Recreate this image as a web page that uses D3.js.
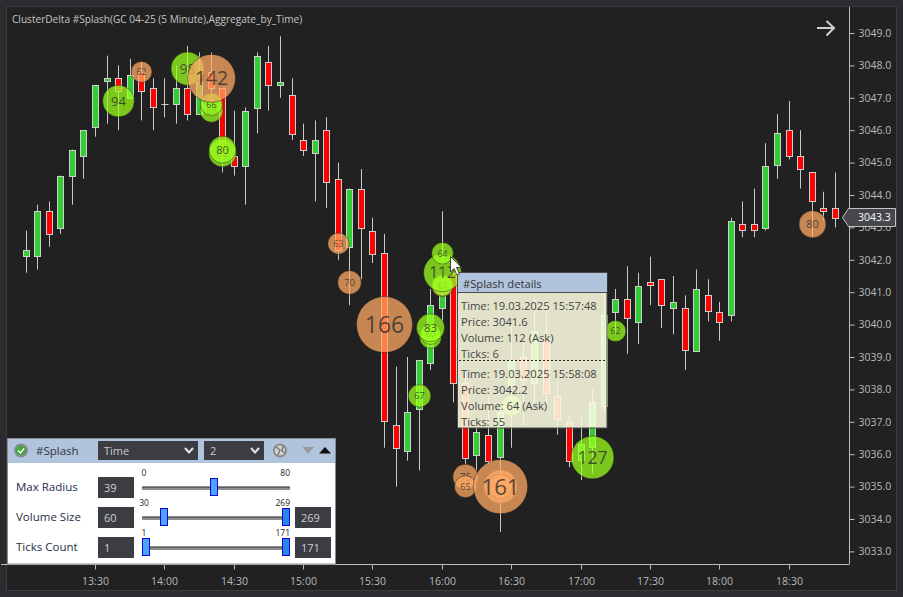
<!DOCTYPE html>
<html>
<head>
<meta charset="utf-8">
<script src="https://cdn.jsdelivr.net/npm/d3@7"></script>
<style>
  html, body { margin: 0; padding: 0; background: #2b2b30; overflow: hidden; }
  text { font-family: "Open Sans", sans-serif; }
</style>
</head>
<body>
<div id="chart"></div>
<script>
const title = 'ClusterDelta #Splash(GC 04-25 (5 Minute),Aggregate_by_Time)'

// 5 minute bars, 13:00 to 18:50
const barOpen = [3042.1, 3042.1, 3043.5, 3043.0, 3044.6, 3045.2, 3046.1, 3047.5, 3047.6, 3047.0, 3047.8, 3047.3, 3046.8, 3046.8, 3047.3, 3046.5, 3047.8, 3047.3,
  3045.2, 3044.9, 3046.7, 3048.1, 3047.4, 3047.1, 3045.7, 3045.3, 3046.0, 3044.5, 3042.4, 3044.2, 3042.9, 3042.2, 3036.9, 3036.1, 3037.4, 3038.8,
  3040.5, 3041.6, 3038.2, 3036.0, 3036.6, 3035.9, 3038.1, 3039.0, 3038.2, 3039.5, 3037.8, 3037.0, 3035.8, 3036.2, 3037.5, 3040.4, 3040.8, 3040.1,
  3041.3, 3041.4, 3040.5, 3040.5, 3039.2, 3040.9, 3040.4, 3040.3, 3043.1, 3043.1, 3043.0, 3044.9, 3046.0, 3045.2, 3044.7, 3043.6, 3043.6]
const barHigh = [3042.9, 3043.7, 3043.8, 3044.6, 3045.4, 3046.0, 3047.4, 3048.3, 3048.0, 3048.2, 3048.1, 3047.6, 3047.6, 3048.0, 3048.6, 3048.4, 3048.4, 3047.3,
  3046.6, 3046.7, 3048.4, 3048.6, 3048.9, 3047.6, 3046.2, 3046.3, 3046.4, 3045.0, 3044.2, 3044.8, 3043.3, 3042.8, 3038.7, 3039.0, 3038.9, 3041.1,
  3043.5, 3042.0, 3038.5, 3037.0, 3037.8, 3037.5, 3040.1, 3039.5, 3040.9, 3040.7, 3038.3, 3037.2, 3037.2, 3038.0, 3041.1, 3041.1, 3041.8, 3041.6,
  3042.1, 3041.4, 3041.5, 3040.9, 3041.7, 3041.4, 3040.7, 3043.3, 3043.8, 3044.2, 3045.6, 3046.5, 3046.9, 3046.0, 3044.7, 3044.1, 3044.7]
const barLow = [3041.6, 3041.7, 3042.4, 3042.8, 3043.7, 3044.5, 3045.8, 3046.2, 3046.0, 3047.0, 3046.3, 3046.0, 3046.4, 3046.2, 3046.3, 3046.5, 3046.8, 3044.7,
  3044.6, 3043.7, 3045.9, 3046.6, 3047.0, 3045.7, 3045.2, 3043.8, 3043.6, 3042.0, 3040.6, 3041.4, 3041.9, 3036.2, 3035.0, 3035.8, 3035.5, 3038.6,
  3040.1, 3037.6, 3035.7, 3035.5, 3035.7, 3033.6, 3036.2, 3036.9, 3037.6, 3037.4, 3036.6, 3035.6, 3035.2, 3035.4, 3037.3, 3039.7, 3039.1, 3039.4,
  3040.6, 3039.9, 3039.7, 3038.6, 3039.2, 3040.1, 3039.5, 3040.1, 3042.7, 3042.7, 3042.9, 3044.5, 3045.1, 3044.2, 3042.7, 3043.2, 3043.0]
const barClose = [3042.3, 3043.5, 3042.8, 3044.6, 3045.4, 3046.0, 3047.4, 3047.6, 3047.2, 3047.7, 3047.2, 3046.7, 3046.8, 3047.3, 3046.5, 3047.5, 3047.3, 3045.2,
  3044.9, 3046.6, 3048.3, 3047.4, 3047.5, 3045.9, 3045.4, 3045.7, 3044.4, 3042.3, 3044.2, 3043.0, 3042.2, 3037.0, 3036.2, 3037.3, 3038.9, 3040.6,
  3040.9, 3038.2, 3035.9, 3036.7, 3035.8, 3037.3, 3038.9, 3038.3, 3039.8, 3037.9, 3037.1, 3035.8, 3036.3, 3037.6, 3040.3, 3040.8, 3040.2, 3041.2,
  3041.2, 3040.6, 3040.7, 3039.2, 3041.1, 3040.4, 3040.1, 3043.2, 3042.9, 3042.9, 3044.9, 3045.9, 3045.2, 3044.8, 3043.8, 3043.5, 3043.3]

// splash marks in drawing order
const splashTime = ['13:40', '13:50', '14:10', '14:20', '14:20', '14:20', '14:25', '14:25', '15:15', '15:20', '15:35', '15:50',
  '15:55', '15:55', '15:55', '16:00', '16:00', '16:00', '16:00', '16:10', '16:10', '16:25', '16:25', '16:25', '16:30', '17:05', '17:15', '18:40']
const splashPrice = [3046.9, 3047.8, 3047.9, 3046.6, 3046.8, 3047.6, 3045.3, 3045.4, 3042.5, 3041.3, 3040.0, 3037.8,
  3039.6, 3039.7, 3039.9, 3041.2, 3041.2, 3041.6, 3042.2, 3035.3, 3035.0, 3035.0, 3035.0, 3035.0, 3037.5, 3035.9, 3039.8, 3043.1]
const splashVolume = [94, 62, 98, 68, 66, 142, 82, 80, 63, 70, 166, 67,
  64, 60, 83, 65, 61, 112, 64, 75, 65, 99, 72, 161, 60, 127, 62, 80]
const splashSide = ['ask', 'bid', 'ask', 'ask', 'ask', 'bid', 'ask', 'ask', 'bid', 'bid', 'bid', 'ask',
  'ask', 'ask', 'ask', 'bid', 'ask', 'ask', 'ask', 'bid', 'bid', 'bid', 'bid', 'bid', 'ask', 'ask', 'ask', 'bid']
const hiddenLabel = ['16:25|99', '16:25|72', '16:30|60', '15:55|64', '16:00|65']

const timeTicks = ['13:30', '14:00', '14:30', '15:00', '15:30', '16:00', '16:30', '17:00', '17:30', '18:00', '18:30']
const priceTicks = [3033, 3034, 3035, 3036, 3037, 3038, 3039, 3040, 3041, 3042, 3043, 3044, 3045, 3046, 3047, 3048, 3049]
const lastPrice = 3043.3

const detailLines = ['Time: 19.03.2025 15:57:48', 'Price: 3041.6', 'Volume: 112 (Ask)', 'Ticks: 6',
  'Time: 19.03.2025 15:58:08', 'Price: 3042.2', 'Volume: 64 (Ask)', 'Ticks: 55']

const sliderNames = ['Max Radius', 'Volume Size', 'Ticks Count']
const sliderMin = [0, 30, 1]
const sliderMax = [80, 269, 171]
const sliderLow = [39, 60, 1]
const sliderHigh = [null, 269, 171]

const w = 903, h = 597
const parseTime = d3.timeParse('%H:%M')
const barTime = i => d3.timeMinute.offset(parseTime('13:00'), i * 5)

const x = d3.scaleTime().domain([parseTime('13:00'), parseTime('18:50')]).range([25.65, 834.85])
const y = d3.scaleLinear().domain([3033, 3049]).range([551.4, 33])
const radius = d3.scaleLinear().domain([0, 166]).range([0, 28])
const colX = v => Math.round(x(v)) + 0.5

const svg = d3.select('#chart').append('svg').attr('width', w).attr('height', h).style('display', 'block')

// frame and plot background
svg.append('rect').attr('x', 6.5).attr('y', 6.5).attr('width', 890).attr('height', 584)
  .attr('fill', '#212121').attr('stroke', '#3c3c43')

svg.append('text').attr('x', 12).attr('y', 22.5).attr('fill', '#c4c4c4')
  .style('font-size', '10.1px').text(title)

// next page arrow
svg.append('path').attr('d', 'M817 28H834M826.5 21L834 28L826.5 35.5')
  .attr('fill', 'none').attr('stroke', '#cfcfcf').attr('stroke-width', 2)

// axes
const xAxis = svg.append('g').attr('transform', 'translate(0.5,564.5)')
  .call(d3.axisBottom(x).tickValues(timeTicks.map(parseTime)).tickFormat(d3.timeFormat('%H:%M')).tickSize(5).tickPadding(8).tickSizeOuter(0))
xAxis.select('.domain').attr('d', 'M0.5,0H849').attr('stroke', '#bdbdbd')
xAxis.selectAll('.tick').attr('transform', d => `translate(${Math.round(x(d))},0)`)

const yAxis = svg.append('g').attr('transform', 'translate(849.5,0)')
  .call(d3.axisRight(y).tickValues(priceTicks).tickFormat(d3.format('.1f')).tickSize(5).tickPadding(4).tickSizeOuter(0))
yAxis.select('.domain').attr('d', 'M0,7V564').attr('stroke', '#bdbdbd')

svg.selectAll('.tick line').attr('stroke', '#bdbdbd')
svg.selectAll('.tick text').attr('fill', '#b9b9b9').style('font-size', '10.5px').style('font-family', '"Open Sans", sans-serif')

// candles
const bars = d3.range(barOpen.length)
const candle = svg.append('g').selectAll('g').data(bars).enter().append('g')
candle.append('line')
  .attr('x1', i => colX(barTime(i))).attr('x2', i => colX(barTime(i)))
  .attr('y1', i => y(barHigh[i])).attr('y2', i => y(barLow[i]))
  .attr('stroke', '#c9c9c9')
candle.filter(i => barOpen[i] !== barClose[i]).append('rect')
  .attr('x', i => colX(barTime(i)) - 3)
  .attr('width', 6)
  .attr('y', i => Math.round(y(Math.max(barOpen[i], barClose[i]))) + 0.5)
  .attr('height', i => Math.max(2, Math.round(Math.abs(y(barOpen[i]) - y(barClose[i])))))
  .attr('fill', i => barClose[i] > barOpen[i] ? '#32cd32' : '#ff0000')
  .attr('stroke', '#cfcfcf')
candle.filter(i => barOpen[i] === barClose[i]).append('line')
  .attr('x1', i => colX(barTime(i)) - 3).attr('x2', i => colX(barTime(i)) + 4)
  .attr('y1', i => Math.round(y(barOpen[i])) + 0.5).attr('y2', i => Math.round(y(barOpen[i])) + 0.5)
  .attr('stroke', '#cfcfcf')

// splash circles
const sideColor = { ask: '#9bff1e', bid: '#ffaa64' }
const splash = svg.append('g').selectAll('g').data(splashTime.map((t, i) => i)).enter().append('g')
  .attr('transform', i => `translate(${colX(parseTime(splashTime[i]))},${y(splashPrice[i])})`)
splash.append('circle')
  .attr('r', i => radius(splashVolume[i]))
  .attr('fill', i => sideColor[splashSide[i]])
  .attr('fill-opacity', 0.75)
  .attr('stroke', '#1c1c1c').attr('stroke-opacity', 0.45)
splash.filter(i => !hiddenLabel.includes(splashTime[i] + '|' + splashVolume[i])).append('text')
  .attr('text-anchor', 'middle').attr('dy', '0.36em')
  .attr('fill', '#2c2c2c').attr('fill-opacity', 0.78)
  .style('font-size', i => radius(splashVolume[i]) * 0.82 + 'px')
  .text(i => splashVolume[i])

// last price tag
const tagY = Math.round(y(lastPrice)) - 0.5
svg.append('path')
  .attr('d', `M842.5 ${tagY}L848.5 ${tagY - 9}H895.5V${tagY + 9}H848.5Z`)
  .attr('fill', '#46464d').attr('stroke', '#c4c4c4')
svg.append('text').attr('x', 858).attr('y', tagY + 3.8).attr('fill', '#fff')
  .style('font-size', '10.5px').text(d3.format('.1f')(lastPrice))

// details tooltip
const tip = svg.append('g')
tip.append('rect').attr('x', 457.5).attr('y', 272.5).attr('width', 149.5).attr('height', 155.5)
  .attr('fill', '#fafae0').attr('fill-opacity', 0.89).attr('stroke', '#4a4a4a')
tip.append('rect').attr('x', 458).attr('y', 273).attr('width', 149).attr('height', 19)
  .attr('fill', '#b0c4de')
tip.append('line').attr('x1', 458).attr('x2', 607).attr('y1', 292.5).attr('y2', 292.5).attr('stroke', '#4a4a4a')
tip.append('text').attr('x', 463).attr('y', 287.5).attr('fill', '#333').style('font-size', '11.2px').text('#Splash details')
const tipRows = [309.5, 326, 342, 358, 378, 394, 410, 425.5]
tip.selectAll('.row').data(detailLines).enter().append('text').attr('class', 'row')
  .attr('x', 461).attr('y', (d, i) => tipRows[i]).attr('fill', '#444')
  .style('font-size', '11.2px').text(d => d)
tip.append('line').attr('x1', 459).attr('x2', 606).attr('y1', 360.5).attr('y2', 360.5)
  .attr('stroke', '#222').attr('stroke-dasharray', '2,2')

// mouse pointer
svg.append('path').attr('d', 'M450.5 256.5V272L454 268.5L457 275L459.5 274L456.5 267.5H461.5Z')
  .attr('fill', '#fff').attr('stroke', '#222').attr('stroke-width', 0.8)

// settings panel
const panel = svg.append('g')
panel.append('rect').attr('x', 7.5).attr('y', 438.5).attr('width', 328).attr('height', 125.5)
  .attr('fill', '#fff').attr('stroke', '#8a8a8a')
panel.append('rect').attr('x', 8).attr('y', 439).attr('width', 327).attr('height', 24).attr('fill', '#b0c4de')

panel.append('circle').attr('cx', 21).attr('cy', 450.5).attr('r', 6).attr('fill', '#3fa83f').attr('stroke', '#8b8b8b').attr('stroke-width', 2)
panel.append('path').attr('d', 'M18 450.5L20.5 453L24 448.5').attr('fill', 'none').attr('stroke', '#fff').attr('stroke-width', 1.4)
panel.append('text').attr('x', 36).attr('y', 454.5).attr('fill', '#333').style('font-size', '11.5px').text('#Splash')

function darkBox (xp, yp, wd, ht, label) {
  panel.append('rect').attr('x', xp).attr('y', yp).attr('width', wd).attr('height', ht).attr('fill', '#3c3c43')
  panel.append('text').attr('x', xp + 6).attr('y', yp + ht / 2 + 4).attr('fill', '#cfcfcf').style('font-size', '11px').text(label)
}
function chevron (cx) {
  panel.append('path').attr('d', `M${cx - 4} 448L${cx} 452.5L${cx + 4} 448`)
    .attr('fill', 'none').attr('stroke', '#e4e4e4').attr('stroke-width', 2)
}
darkBox(98, 441, 100, 19, 'Time')
chevron(189)
darkBox(204, 441, 60, 19, '2')
chevron(255)

// globe and up/down buttons
panel.append('circle').attr('cx', 280).attr('cy', 450.5).attr('r', 6).attr('fill', '#d4d4d4').attr('stroke', '#8c8c8c').attr('stroke-width', 2)
panel.append('path').attr('d', 'M276 447L280 450L278 455M283 446L282 451L285 453').attr('fill', 'none').attr('stroke', '#777').attr('stroke-width', 1.5)
panel.append('path').attr('d', 'M302.5 447H314L308 454Z').attr('fill', '#9a9a9a')
panel.append('path').attr('d', 'M319 453.5H331L325 447Z').attr('fill', '#111')

const rowY = [488, 518, 548]
sliderNames.forEach((name, i) => {
  const cy = rowY[i]
  const pos = d3.scaleLinear().domain([sliderMin[i], sliderMax[i]]).range([146, 286])
  panel.append('text').attr('x', 16).attr('y', cy + 3).attr('fill', '#1f2d4a').style('font-size', '11.5px').text(name)
  darkBox(98, cy - 11, 36, 21, sliderLow[i])
  if (sliderHigh[i] !== null) darkBox(295, cy - 11, 36, 21, sliderHigh[i])

  panel.append('rect').attr('x', 142).attr('y', cy - 2).attr('width', 148).attr('height', 4).attr('fill', '#8d8d8d')
  panel.append('rect').attr('x', 142).attr('y', cy - 1).attr('width', 148).attr('height', 1).attr('fill', '#5f5f5f')

  panel.append('text').attr('x', pos(sliderMin[i]) - 2).attr('y', cy - 12).attr('text-anchor', 'middle').attr('fill', '#222').style('font-size', '8.5px').text(sliderMin[i])
  panel.append('text').attr('x', 290).attr('y', cy - 12).attr('text-anchor', 'end').attr('fill', '#222').style('font-size', '8.5px').text(sliderMax[i])

  const handles = sliderHigh[i] !== null ? [sliderLow[i], sliderHigh[i]] : [sliderLow[i]]
  handles.forEach((v, j) => {
    panel.append('rect').attr('x', Math.round(pos(v)) - 3.5).attr('y', cy - 9.5).attr('width', 7).attr('height', 17)
      .attr('fill', j === 0 ? '#4da3ff' : '#2a86ea').attr('stroke', '#0a0ae0')
  })
})
</script>
</body>
</html>
